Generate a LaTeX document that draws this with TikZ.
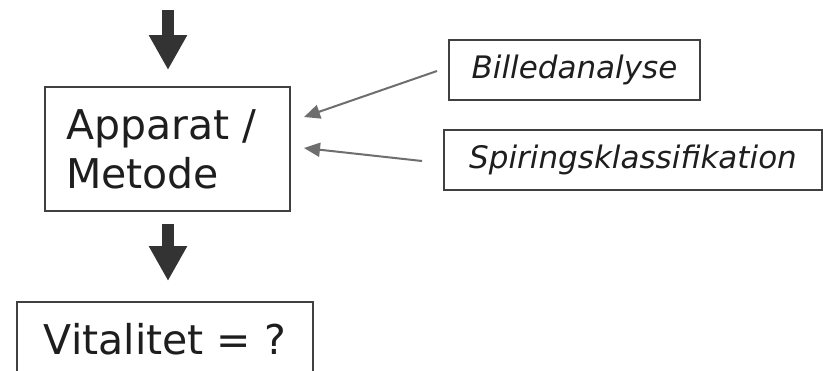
\documentclass[tikz,border=0pt]{standalone}
\usepackage{fontspec}
\setmainfont{DejaVu Sans}
\usetikzlibrary{arrows.meta}
\definecolor{boxline}{HTML}{404040}
\definecolor{bigarrow}{HTML}{333333}
\definecolor{thinarrow}{HTML}{6E6E6E}
\definecolor{txt}{HTML}{1E1E1E}
\tikzset{
  bigbox/.style={draw=boxline, line width=2pt, text=txt, font=\fontsize{41}{49}\selectfont},
  smallbox/.style={draw=boxline, line width=2pt, text=txt, font=\fontsize{31}{37}\selectfont\itshape, inner sep=0pt},
  fatarrow/.style={draw=bigarrow, line width=12pt, -{Triangle[width=36pt,length=35pt,fill=bigarrow]}},
  grayarrow/.style={draw=thinarrow, line width=2pt, -{Triangle[width=14pt,length=16pt,fill=thinarrow]}}
}
\begin{document}
\begin{tikzpicture}[x=1pt,y=-1pt]
\useasboundingbox (0,0) rectangle (823,370);
\clip (0,0) rectangle (823,370);
\fill[white] (0,0) rectangle (823,370);
% main box
\node[bigbox, anchor=north west, inner xsep=21pt, inner ysep=0pt, text width=203pt, align=left,
      minimum height=124pt] (ap) at (44,86) {Apparat /\\Metode};
% result box
\node[bigbox, anchor=north, minimum width=296pt, inner ysep=22pt, text height=30pt, text depth=20pt] (vit) at (165,301) {Vitalitet = ?};
% method boxes
\node[smallbox, minimum width=251pt, minimum height=60pt] (bil) at (574.5,70) {Billedanalyse};
\node[smallbox, minimum width=378pt, minimum height=60pt] (spi) at (633,160) {Spiringsklassifikation};
% fat arrows
\coordinate (topstart) at (168,10);
\draw[fatarrow, shorten >=16pt] (topstart) -- (topstart |- ap.north);
\coordinate (col) at (168,0);
\draw[fatarrow, shorten <=12pt, shorten >=20pt] (col |- ap.south) -- (col |- vit.north);
% gray arrows
\draw[grayarrow] ([xshift=-11pt,yshift=-1pt]bil.west) -- ([xshift=13pt,yshift=32pt]ap.east);
\draw[grayarrow] ([xshift=-21pt,yshift=-1pt]spi.west) -- ([xshift=13pt,yshift=1pt]ap.east);
\end{tikzpicture}
\end{document}
